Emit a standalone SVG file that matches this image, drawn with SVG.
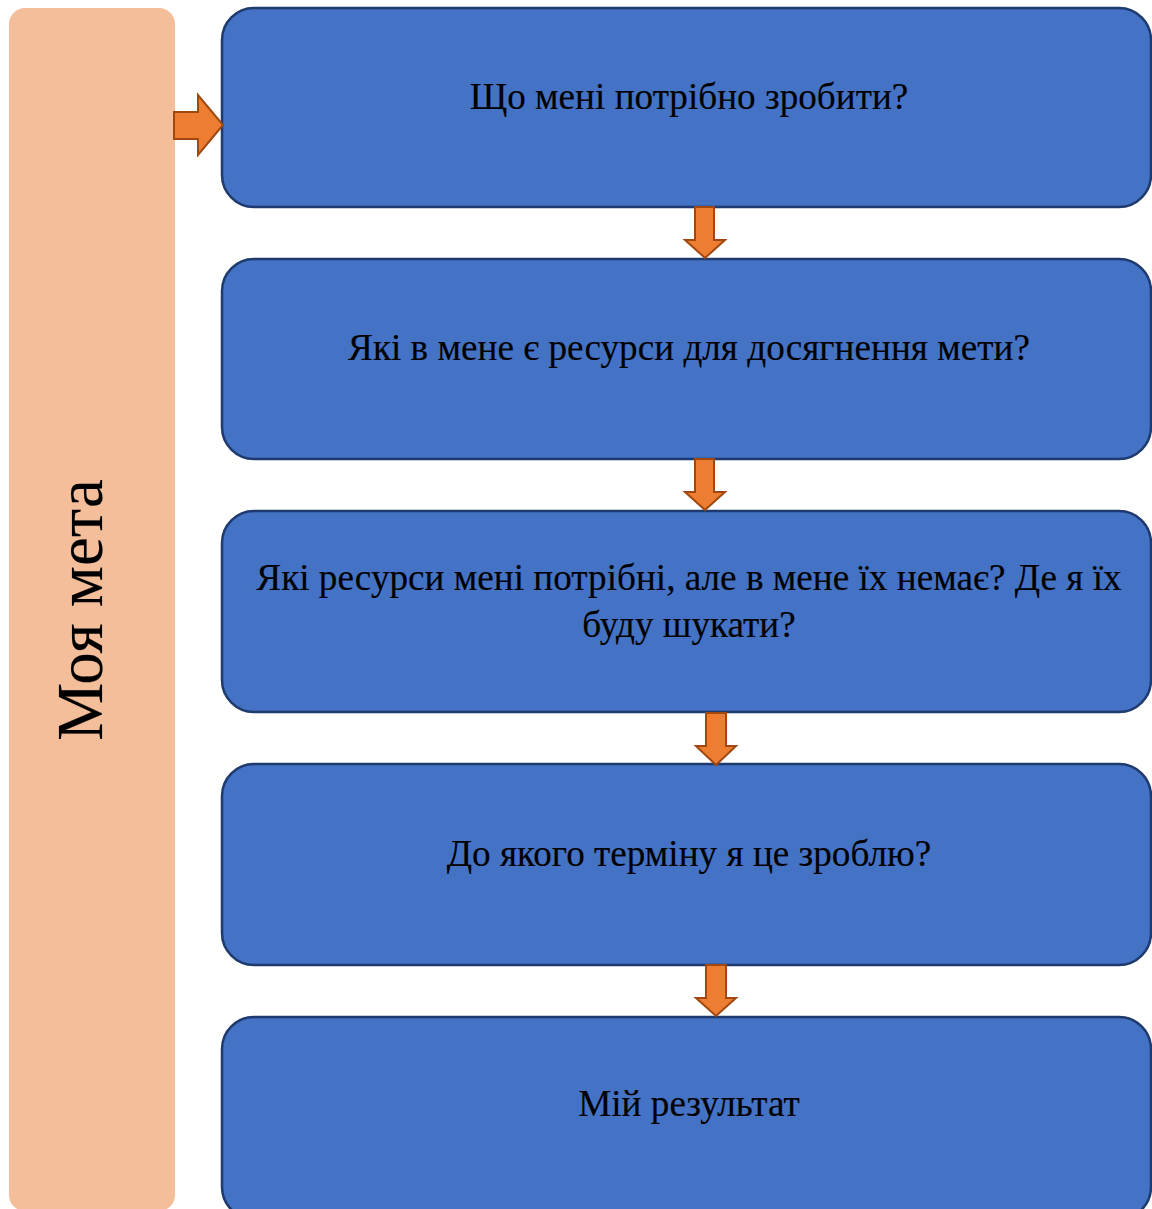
<svg xmlns="http://www.w3.org/2000/svg" width="1152" height="1209" viewBox="0 0 1152 1209">
<style>
.box{fill:#4472C4;stroke:#1F3A6E;stroke-width:2.5}
.arr{fill:#ED7D31;stroke:#A0480F;stroke-width:2}
.t{font-family:"Liberation Serif","Times New Roman",serif;font-size:37.2px;fill:#000;stroke:#000;stroke-width:0.15;text-anchor:middle}
</style>
<rect width="1152" height="1209" fill="#fff"/>
<g id="goal">
<rect x="9" y="8" width="166" height="1203" rx="16" fill="#F5BE9A"/>
<text class="t" style="font-size:65px" transform="translate(102,610) rotate(-90)" x="0" y="0">Моя мета</text>
</g>
<g id="n1"><rect class="box" x="222" y="8" width="929" height="199" rx="32"/><text class="t" x="689" y="109">Що мені потрібно зробити?</text></g>
<g id="n2"><rect class="box" x="222" y="259" width="929" height="200" rx="32"/><text class="t" x="689" y="360">Які в мене є ресурси для досягнення мети?</text></g>
<g id="n3"><rect class="box" x="222" y="511" width="929" height="201" rx="32"/><text class="t" x="689" y="590">Які ресурси мені потрібні, але в мене їх немає? Де я їх</text><text class="t" x="689" y="637">буду шукати?</text></g>
<g id="n4"><rect class="box" x="222" y="764" width="929" height="201" rx="32"/><text class="t" x="689" y="866">До якого терміну я це зроблю?</text></g>
<g id="n5"><rect class="box" x="222" y="1017" width="929" height="202" rx="32"/><text class="t" x="689" y="1116">Мій результат</text></g>
<g id="connectors">
<polygon class="arr" points="174,112 198,112 198,95 223,125 198,155 198,139 174,139"/>
<polygon class="arr" points="695,207 714,207 714,240 725,240 705,258 685,240 695,240"/>
<polygon class="arr" points="695,459 714,459 714,492 725,492 705,510 685,492 695,492"/>
<polygon class="arr" points="706,713 726,713 726,746 736,746 716,765 696,746 706,746"/>
<polygon class="arr" points="706,965 726,965 726,998 736,998 716,1016 696,998 706,998"/>
</g>
</svg>
